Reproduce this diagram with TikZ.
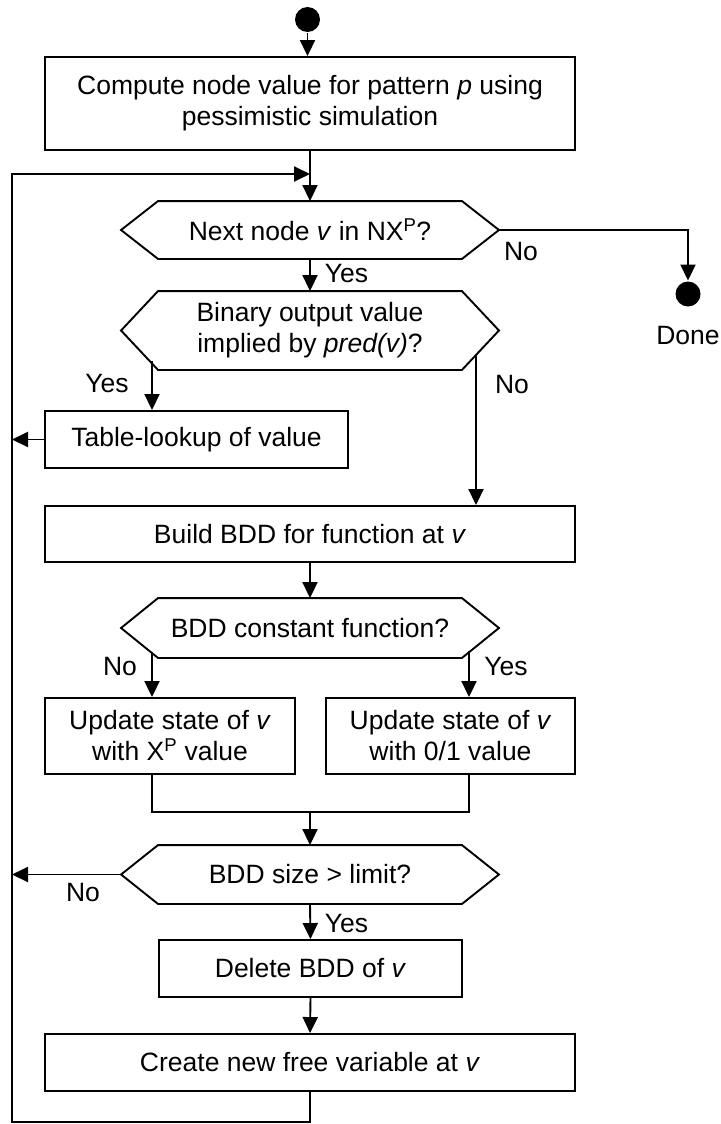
\documentclass[tikz,border=0pt]{standalone}
\usepackage{fontspec}
\setmainfont{Liberation Sans}
\usetikzlibrary{arrows.meta,calc}
% hexagonal decision frame round a core rectangle node
\newcommand\hexframe[1]{%
  \draw (#1.north west) -- (#1.north east) -- ($(#1.east)+(37,0)$)
        -- (#1.south east) -- (#1.south west) -- ($(#1.west)-(37,0)$) -- cycle;}
\begin{document}
\begin{tikzpicture}[x=1pt,y=-1pt,
  line width=1.9pt,
  font=\fontsize{26.5}{31}\selectfont,
  flow/.style={-{Triangle[length=16pt,width=15pt]}},
  box/.style={draw, rectangle, inner sep=0pt, align=center},
  hexcore/.style={rectangle, inner sep=0pt, align=center, minimum width=302pt},
  lbl/.style={inner sep=0pt},
  dot/.style={circle, fill=black, minimum size=25pt, inner sep=0pt}]
\useasboundingbox (0,0) rectangle (720,1124);

% process steps
\node[dot] (start) at (307.5,19.5) {};
\node[box, minimum width=530pt, minimum height=93pt] (b1) at (310,103.5)
  {Compute node value for pattern \textit{p} using\\pessimistic simulation};
\node[hexcore, minimum height=56pt] (h1) at (310,230)
  {Next node \textit{v} in NX\textsuperscript{P}?};
\node[dot] (done) at (688,294) {};
\node[lbl] (donelbl) at (688,336) {Done};
\node[hexcore, minimum height=77pt] (h2) at (310,330.5)
  {Binary output value\\implied by \textit{pred(v)}?};
\node[box, minimum width=303pt, minimum height=57pt] (table) at (196.5,439.5)
  {Table-lookup of value};
\node[box, minimum width=530pt, minimum height=56pt] (build) at (310,534)
  {Build BDD for function at \textit{v}};
\node[hexcore, minimum height=58pt] (h3) at (310,628)
  {BDD constant function?};
\node[box, minimum width=250pt, minimum height=76pt] (updl) at (170,736)
  {Update state of \textit{v}\\with X\textsuperscript{P} value};
\node[box, minimum width=249pt, minimum height=76pt] (updr) at (450.5,736)
  {Update state of \textit{v}\\with 0/1 value};
\node[hexcore, minimum height=57pt] (h4) at (310,874.5)
  {BDD size \textgreater{} limit?};
\node[box, minimum width=303pt, minimum height=57pt] (del) at (310.5,968.5)
  {Delete BDD of \textit{v}};
\node[box, minimum width=530pt, minimum height=57pt] (create) at (310,1062.5)
  {Create new free variable at \textit{v}};

\hexframe{h1}
\hexframe{h2}
\hexframe{h3}
\hexframe{h4}

% branch points and loop corners
\coordinate (h1r) at ($(h1.east)+(37,0)$);
\coordinate (h4l) at ($(h4.west)-(37,0)$);
\coordinate (h2y) at (152,361);
\coordinate (h2n) at (476,355.5);
\coordinate (h3n) at (152,651.5);
\coordinate (h3y) at (469,651);
\coordinate (mg) at (310,812);
\coordinate (lt) at (12,174);
\coordinate (lb) at (12,1122);

% connectors
\draw[flow] (start.south) -- (start.south |- b1.north);
\draw[flow] (b1.south) -- (h1.north);
\draw[flow] (h1r) -| (done.north);
\draw[flow] (h1.south) -- (h2.north);
\draw[flow] (h2y) -- (h2y |- table.north);
\draw[flow] (h2n) -- (h2n |- build.north);
\draw[flow] (table.west) -- (table.west -| lt);
\draw[flow] (build.south) -- (h3.north);
\draw[flow] (h3n) -- (h3n |- updl.north);
\draw[flow] (h3y) -- (h3y |- updr.north);
\draw (h3n |- updl.south) |- (h3y |- mg) -- (h3y |- updr.south);
\draw[flow] (mg) -- (h4.north);
\draw[flow] (h4l) -- (h4l -| lt);
\draw[flow] (h4.south) -- (del.north);
\draw[flow] (del.south) -- (create.north);
\draw[flow] (create.south) |- (lb) -- (lt) -- (lt -| h1.north);

% branch labels
\node[lbl] (n1) at (521,252) {No};
\node[lbl, anchor=west] (y1) at (324,274) {Yes};
\node[lbl] (y2) at (107,384) {Yes};
\node[lbl] (n2) at (512,385) {No};
\node[lbl] (n3) at (120,667) {No};
\node[lbl] (y3) at (506,667) {Yes};
\node[lbl] (n4) at (83,893) {No};
\node[lbl, anchor=west] (y4) at (324,924) {Yes};
\end{tikzpicture}
\end{document}
